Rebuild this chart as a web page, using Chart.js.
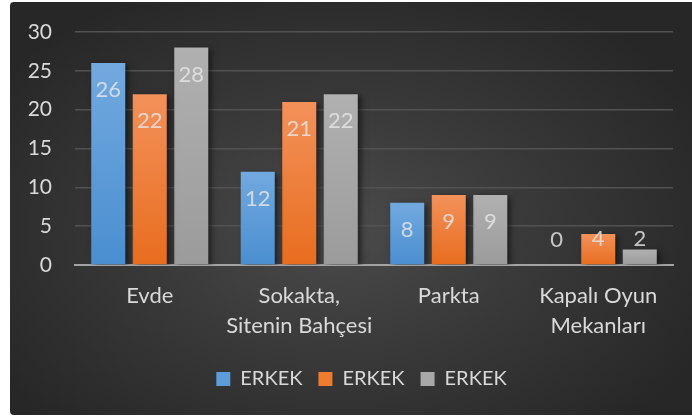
<!DOCTYPE html>
<html>
<head>
<meta charset="utf-8">
<script src="https://cdn.jsdelivr.net/npm/chart.js@4"></script>
<style>
  html, body { margin: 0; padding: 0; background: #ffffff; width: 692px; height: 419px; overflow: hidden; }
  #panel { position: absolute; left: 10px; top: 2px; width: 682px; height: 413px; border-radius: 4px 0 0 4px;
    background: radial-gradient(ellipse 60% 65% at 48% 55%, #4b4b4b 0%, #3a3a3a 45%, #272727 100%); }
  #c { position: absolute; left: 0; top: 0; }
</style>
</head>
<body>
<div id="panel"></div>
<canvas id="c" width="692" height="419"></canvas>
<script>
const categories = ['Evde', ['Sokakta,', 'Sitenin Bahçesi'], 'Parkta', ['Kapalı Oyun', 'Mekanları']];
const seriesNames = ['ERKEK', 'ERKEK', 'ERKEK'];
const series1 = [26, 12, 8, 0];
const series2 = [22, 21, 9, 4];
const series3 = [28, 22, 9, 2];
const yTicks = [0, 5, 10, 15, 20, 25, 30];

const FONT = 'Lato';
const TEXT = '#d9d9d9';
const LEGEND_SHIFT = 25;

function barGradient(top, bottom) {
  return function (ctx) {
    const chart = ctx.chart;
    const ys = chart.scales && chart.scales.y;
    if (!ys || ctx.type !== 'data') return bottom;
    const v = ctx.parsed ? ctx.parsed.y : ctx.raw;
    const yTop = ys.getPixelForValue(v);
    const yBase = ys.getPixelForValue(0);
    if (!isFinite(yTop) || !isFinite(yBase) || yTop === yBase) return bottom;
    const g = chart.ctx.createLinearGradient(0, yTop, 0, yBase);
    g.addColorStop(0, top);
    g.addColorStop(1, bottom);
    return g;
  };
}

const shadowPlugin = {
  id: 'barShadow',
  afterInit(chart) {
    const lg = chart.legend;
    if (lg && !lg._shifted) {
      const orig = lg.draw.bind(lg);
      lg.draw = function (area) {
        chart.ctx.save();
        chart.ctx.translate(LEGEND_SHIFT, 0);
        orig(area);
        chart.ctx.restore();
      };
      lg._shifted = true;
    }
  },
  beforeDatasetsDraw(chart) {
    const c = chart.ctx;
    c.save();
    c.shadowColor = 'rgba(0,0,0,0.55)';
    c.shadowBlur = 6;
    c.shadowOffsetX = 3;
    c.shadowOffsetY = 2;
  },
  afterDatasetsDraw(chart) {
    chart.ctx.restore();
    const c = chart.ctx;
    c.save();
    c.font = '22px ' + FONT;
    c.fillStyle = 'rgba(230,230,230,0.82)';
    c.textAlign = 'center';
    c.textBaseline = 'middle';
    chart.data.datasets.forEach((ds, di) => {
      const meta = chart.getDatasetMeta(di);
      meta.data.forEach((el, i) => {
        const cy = Math.min(el.y + 27, el.base - 25);
        c.fillText(String(ds.data[i]), el.x, cy);
      });
    });
    c.restore();
  }
};

new Chart(document.getElementById('c'), {
  type: 'bar',
  data: {
    labels: categories,
    datasets: [
      { label: seriesNames[0], data: series1, backgroundColor: barGradient('#72a9df', '#4a8ed0'), borderWidth: 0 },
      { label: seriesNames[1], data: series2, backgroundColor: barGradient('#f3915a', '#e86d1e'), borderWidth: 0 },
      { label: seriesNames[2], data: series3, backgroundColor: barGradient('#b0b0b0', '#9b9b9b'), borderWidth: 0 }
    ]
  },
  options: {
    responsive: false,
    animation: false,
    devicePixelRatio: 1,
    categoryPercentage: 0.833,
    barPercentage: 0.82,
    layout: { padding: { top: 32, right: 19, bottom: 20, left: 0 } },
    plugins: {
      legend: {
        position: 'bottom',
        labels: {
          color: TEXT,
          font: { family: FONT, size: 20 },
          boxWidth: 14,
          boxHeight: 14,
          padding: 16,
          generateLabels(chart) {
            const cols = ['#5c9cd9', '#ee7b2e', '#a8a8a8'];
            return chart.data.datasets.map((ds, i) => ({
              text: ds.label, fillStyle: cols[i], strokeStyle: cols[i], lineWidth: 0,
              fontColor: TEXT, datasetIndex: i, hidden: false
            }));
          }
        }
      },
      tooltip: { enabled: false }
    },
    scales: {
      x: {
        z: 1,
        grid: { display: false, drawTicks: false },
        border: { display: true, color: '#a3a3a3', width: 2 },
        ticks: { color: TEXT, font: { family: FONT, size: 22, lineHeight: 1.36 }, padding: 16, maxRotation: 0, autoSkip: false },
        afterFit(scale) { scale.height = 88; }
      },
      y: {
        min: 0, max: 30,
        afterBuildTicks(scale) { scale.ticks = yTicks.map(v => ({ value: v })); },
        grid: { color: '#525252', lineWidth: 1.5, drawTicks: true, tickLength: 17, tickColor: 'rgba(0,0,0,0)' },
        border: { display: false },
        ticks: { color: TEXT, font: { family: FONT, size: 21 }, padding: 6 },
        afterFit(scale) { scale.width = 75; }
      }
    }
  },
  plugins: [shadowPlugin]
});
</script>
</body>
</html>
